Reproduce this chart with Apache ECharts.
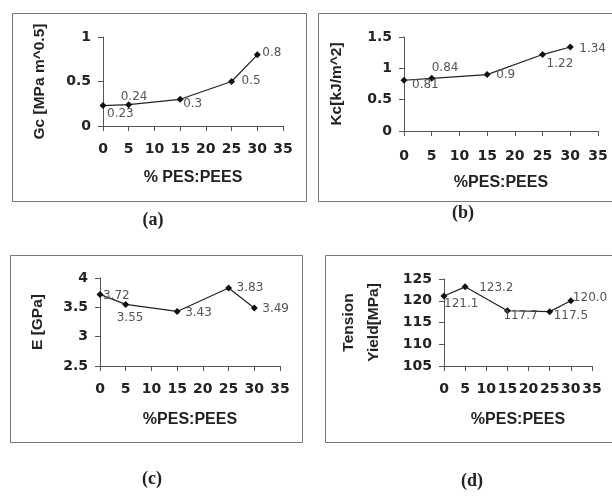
<!DOCTYPE html>
<html>
<head>
<meta charset="utf-8">
<script src="https://cdn.jsdelivr.net/npm/echarts@6/dist/echarts.min.js"></script>
<style>
  html, body { margin: 0; padding: 0; background: #fff; }
  #chart { width: 612px; height: 500px; }
</style>
</head>
<body>
<div id="chart"></div>
<script>
// 横轴：PES:PEES 含量 (%)
const pesContent = [0, 5, 15, 25, 30]
const xTicks = [0, 5, 10, 15, 20, 25, 30, 35]

// 各子图数值
const gcValues = [0.23, 0.24, 0.3, 0.5, 0.8]        // (a) Gc
const kcValues = [0.81, 0.84, 0.9, 1.22, 1.34]      // (b) Kc
const eValues = [3.72, 3.55, 3.43, 3.83, 3.49]      // (c) E
const yieldValues = [121.1, 123.2, 117.7, 117.5, 120.0] // (d) 屈服强度

// y 轴刻度
const gcTicks = [0, 0.5, 1]
const kcTicks = [0, 0.5, 1, 1.5]
const eTicks = [2.5, 3, 3.5, 4]
const yieldTicks = [105, 110, 115, 120, 125]

// 数据标签偏移（样式，仅用于排版）
const labelOffsets = [
  [[4, 8], [-8, -8], [3, 5], [10, -1], [5, -2]],
  [[8, 5], [0, -10], [9, 0], [4, 9], [9, 2]],
  [[3, 1], [-9, 13], [8, 1], [8, 0], [8, 1]],
  [[0, 8], [14, 1], [-4, 5], [4, 4], [2, -3]]
]

const panels = [
  { grid: { left: 103, top: 37, width: 180, height: 89 }, ys: gcValues, ticks: gcTicks,
    yName: 'Gc [MPa m^0.5]', yGap: 51, xName: '% PES:PEES', xMargin: 16, fmt: v => String(v) },
  { grid: { left: 404, top: 37, width: 194, height: 94 }, ys: kcValues, ticks: kcTicks,
    yName: 'Kc[kJ/m^2]', yGap: 55, xName: '%PES:PEES', xMargin: 18, fmt: v => String(v) },
  { grid: { left: 100, top: 278, width: 180, height: 88 }, ys: eValues, ticks: eTicks,
    yName: 'E [GPa]', yGap: 50, xName: '%PES:PEES', xMargin: 16, fmt: v => String(v) },
  { grid: { left: 444, top: 279, width: 148, height: 87 }, ys: yieldValues, ticks: yieldTicks,
    yName: 'Tension\nYield[MPa]', yGap: 58, xName: '%PES:PEES', xMargin: 16, fmt: v => v.toFixed(1) }
]

const axisColor = '#555'
const tickFont = { fontFamily: 'DejaVu Sans', fontWeight: 'bold', fontSize: 14, color: '#222' }
const nameFont = { fontFamily: 'Liberation Sans', fontWeight: 'bold', fontSize: 16, color: '#222' }

const chart = echarts.init(document.getElementById('chart'))

const option = {
  animation: false,
  grid: panels.map(p => p.grid),
  xAxis: panels.map((p, i) => ({
    type: 'value',
    gridIndex: i,
    min: xTicks[0],
    max: xTicks[xTicks.length - 1],
    interval: 5,
    name: p.xName,
    nameLocation: 'middle',
    nameGap: i < 2 ? 44 : 46,
    nameTextStyle: nameFont,
    axisLine: { lineStyle: { color: axisColor, width: 1 } },
    axisTick: { show: true, length: 5, lineStyle: { color: axisColor } },
    axisLabel: Object.assign({ margin: p.xMargin }, tickFont),
    splitLine: { show: false }
  })),
  yAxis: panels.map((p, i) => ({
    type: 'value',
    gridIndex: i,
    min: p.ticks[0],
    max: p.ticks[p.ticks.length - 1],
    interval: p.ticks[1] - p.ticks[0],
    name: p.yName,
    nameLocation: 'middle',
    nameRotate: 90,
    nameGap: p.yGap,
    nameTextStyle: Object.assign({}, nameFont, { fontSize: 15.5, lineHeight: 25 }),
    axisLine: { show: true, lineStyle: { color: axisColor, width: 1 } },
    axisTick: { show: true, length: 5, lineStyle: { color: axisColor } },
    axisLabel: Object.assign({ margin: 12 }, tickFont),
    splitLine: { show: false }
  })),
  series: panels.map((p, i) => ({
    type: 'line',
    xAxisIndex: i,
    yAxisIndex: i,
    clip: false,
    symbol: 'diamond',
    symbolSize: 7,
    itemStyle: { color: '#111' },
    lineStyle: { color: '#222', width: 1.2 },
    label: {
      show: true,
      position: 'inside',
      align: 'left',
      verticalAlign: 'middle',
      fontFamily: 'DejaVu Sans',
      fontSize: 12,
      color: '#555',
      formatter: params => p.fmt(params.value[1])
    },
    data: pesContent.map((x, j) => ({
      value: [x, p.ys[j]],
      label: { offset: labelOffsets[i][j] }
    }))
  })),
  graphic: [
    // 子图外框
    { type: 'rect', shape: { x: 12.5, y: 13.5, width: 294, height: 188 }, style: { fill: 'none', stroke: '#777', lineWidth: 1 }, z: -1 },
    { type: 'rect', shape: { x: 318.5, y: 13.5, width: 300, height: 188 }, style: { fill: 'none', stroke: '#777', lineWidth: 1 }, z: -1 },
    { type: 'rect', shape: { x: 10.5, y: 255.5, width: 292, height: 187 }, style: { fill: 'none', stroke: '#777', lineWidth: 1 }, z: -1 },
    { type: 'rect', shape: { x: 325.5, y: 255.5, width: 300, height: 187 }, style: { fill: 'none', stroke: '#777', lineWidth: 1 }, z: -1 },
    // 子图编号
    { type: 'text', x: 153, y: 220, style: { text: '(a)', font: 'bold 18px "Liberation Serif"', fill: '#222', align: 'center', verticalAlign: 'middle' } },
    { type: 'text', x: 463, y: 213, style: { text: '(b)', font: 'bold 18px "Liberation Serif"', fill: '#222', align: 'center', verticalAlign: 'middle' } },
    { type: 'text', x: 152, y: 479, style: { text: '(c)', font: 'bold 18px "Liberation Serif"', fill: '#222', align: 'center', verticalAlign: 'middle' } },
    { type: 'text', x: 472, y: 481, style: { text: '(d)', font: 'bold 18px "Liberation Serif"', fill: '#222', align: 'center', verticalAlign: 'middle' } }
  ]
}

chart.setOption(option)
</script>
</body>
</html>
